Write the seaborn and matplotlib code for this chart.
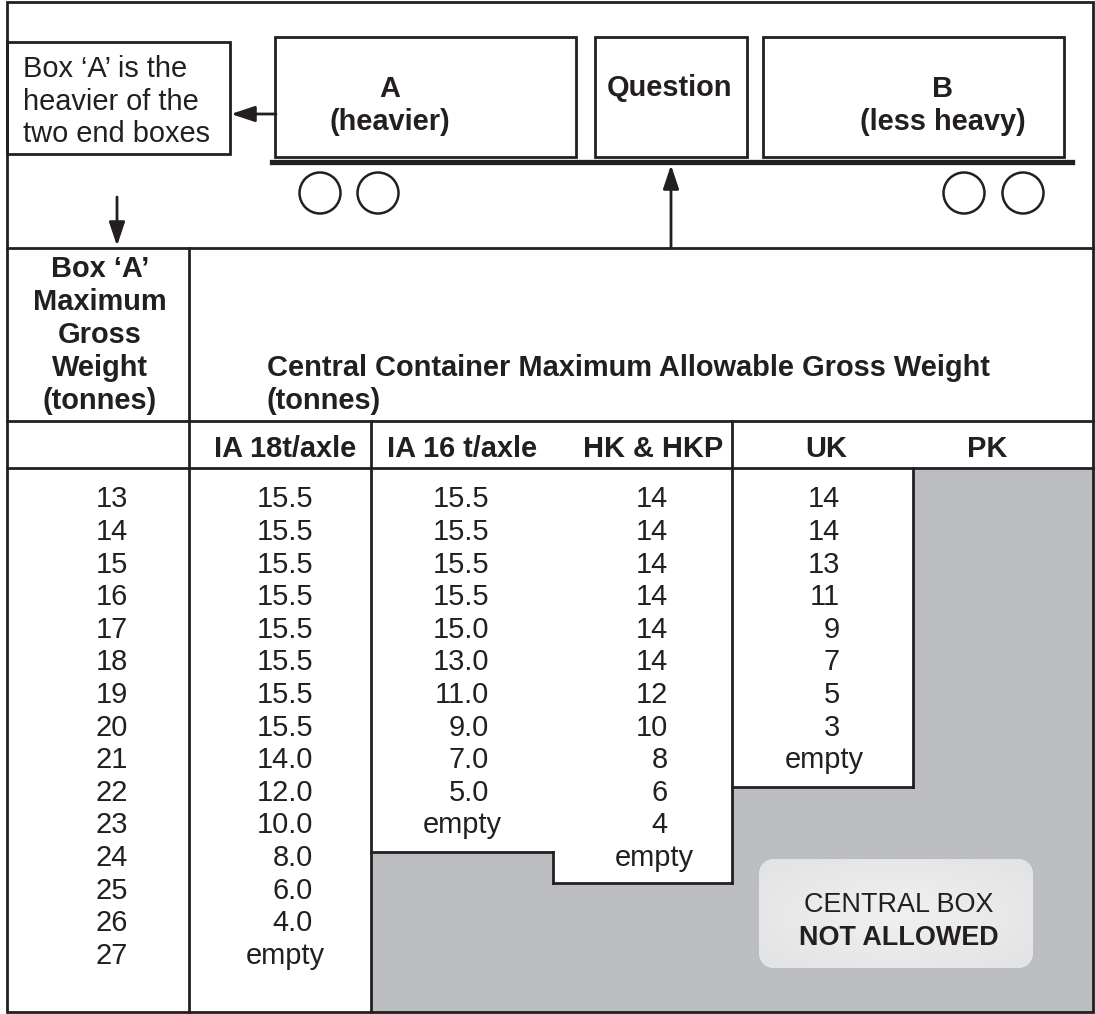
import numpy as np
import matplotlib
matplotlib.use("Agg")
import matplotlib.pyplot as plt
import seaborn as sns
from matplotlib.patches import Rectangle, Circle, Polygon, FancyBboxPatch

# table values (rows are Box 'A' weights, columns are central-box limits)
box_a_weights = [13, 14, 15, 16, 17, 18, 19, 20, 21, 22, 23, 24, 25, 26, 27]
ia18 = ["15.5", "15.5", "15.5", "15.5", "15.5", "15.5", "15.5", "15.5",
        "14.0", "12.0", "10.0", "8.0", "6.0", "4.0", "empty"]
ia16 = ["15.5", "15.5", "15.5", "15.5", "15.0", "13.0", "11.0", "9.0",
        "7.0", "5.0", "empty"]
hk_hkp = ["14", "14", "14", "14", "14", "14", "12", "10", "8", "6", "4", "empty"]
uk = ["14", "14", "13", "11", "9", "7", "5", "3", "empty"]
pk = []

col_names = ["IA 18t/axle", "IA 16 t/axle", "HK & HKP", "UK", "PK"]
header_left = ["Box \u2018A\u2019", "Maximum", "Gross", "Weight", "(tonnes)"]
callout = ["Box \u2018A\u2019 is the", "heavier of the", "two end boxes"]

INK = "#231f20"
GREY = "#bcbdc0"
W, H = 1095, 1014

sns.set_theme(style="white")
plt.rcParams["font.family"] = ["Liberation Sans", "DejaVu Sans"]

fig = plt.figure(figsize=(W / 100, H / 100), dpi=100)
ax = fig.add_axes([0, 0, 1, 1])
ax.set_xlim(0, W)
ax.set_ylim(H, 0)
ax.axis("off")

FS = 29 * 72 / 100  # 29 px text
LW = 2.0


def line(x0, y0, x1, y1, lw=LW):
    ax.plot([x0, x1], [y0, y1], color=INK, lw=lw, solid_capstyle="projecting")


def txt(x, y, s, ha="center", bold=False, size=FS):
    # y is the visual middle of capitals; shift to baseline
    ax.text(x, y + size * 100 / 72 * 0.36, s, ha=ha, va="baseline",
            fontsize=size, color=INK, fontweight="bold" if bold else "normal")


def arrow(x0, y0, x1, y1):
    ax.annotate("", xy=(x1, y1), xytext=(x0, y0),
                arrowprops=dict(arrowstyle="-|>,head_length=1.2,head_width=0.4",
                                color=INK, lw=LW, shrinkA=0, shrinkB=0))


# grey "not allowed" region
left, right, top, bottom = 7, 1093, 2, 1012
ia_split, hk_split, uk_split, pk_split = 371, 553, 732, 913
ax.add_patch(Polygon([(ia_split, bottom), (ia_split, 852), (hk_split, 852),
                      (hk_split, 883), (uk_split, 883), (uk_split, 787),
                      (pk_split, 787), (pk_split, 468), (right, 468),
                      (right, bottom)], closed=True, facecolor=GREY,
                     edgecolor="none", zorder=0))

# outer frame and table rules
ax.add_patch(Rectangle((left, top), right - left, bottom - top, fill=False,
                       edgecolor=INK, lw=LW))
for y in (248, 421, 468):
    line(left, y, right, y)
line(189, 248, 189, bottom)
line(ia_split, 421, ia_split, bottom)
line(uk_split, 421, uk_split, 883)
line(pk_split, 468, pk_split, 787)
line(uk_split, 787, pk_split, 787)
line(hk_split, 883, uk_split, 883)
line(hk_split, 852, hk_split, 883)
line(ia_split, 852, hk_split, 852)

# wagon sketch
ax.add_patch(Rectangle((7, 42), 223, 112, fill=False, edgecolor=INK, lw=LW))
for x0, x1 in ((275, 576), (595, 747), (763, 1064)):
    ax.add_patch(Rectangle((x0, 37), x1 - x0, 120, fill=False, edgecolor=INK, lw=LW))
line(272, 162, 1072, 162, lw=3.8)
for cx in (320, 378, 964, 1023):
    ax.add_patch(Circle((cx, 193), 20.5, fill=False, edgecolor=INK, lw=1.8))
arrow(276, 114, 231, 114)
arrow(117, 197, 117, 246)
arrow(671, 248, 671, 165)

for i, s in enumerate(callout):
    txt(23, 67 + 32.5 * i, s, ha="left")
txt(390, 87, "A", bold=True)
txt(390, 120, "(heavier)", bold=True)
txt(670, 86, "Question", bold=True)
txt(943, 87, "B", bold=True)
txt(943, 120, "(less heavy)", bold=True)

# header
for i, s in enumerate(header_left):
    txt(100, 267 + 33 * i, s, bold=True)
txt(267, 366, "Central Container Maximum Allowable Gross Weight", ha="left", bold=True)
txt(267, 399, "(tonnes)", ha="left", bold=True)
for x, s in zip((285, 462, 653, 826, 987), col_names):
    txt(x, 447, s, bold=True)

# data rows
row_y = {w: 497 + 32.6 * i for i, w in enumerate(box_a_weights)}
for w in box_a_weights:
    txt(112, row_y[w], str(w))

columns = [(ia18, 285, 313), (ia16, 462, 489), (hk_hkp, 654, 668),
           (uk, 824, 840), (pk, 987, 1000)]
for values, cx, rx in columns:
    for w, v in zip(box_a_weights, values):
        if v == "empty":
            txt(cx, row_y[w], v)
        else:
            txt(rx, row_y[w], v, ha="right")

# "not allowed" badge with soft gradient
badge = FancyBboxPatch((776, 876), 240, 75, boxstyle="round,pad=17,rounding_size=17",
                       facecolor="#f3f4f4", edgecolor="none", zorder=2)
ax.add_patch(badge)
gx, gy = np.meshgrid(np.linspace(-1, 1, 200), np.linspace(-1, 1, 100))
grad = np.sqrt(gx ** 2 + gy ** 2)
im = ax.imshow(grad, cmap=sns.light_palette("#e1e2e3", as_cmap=True), vmin=0, vmax=1.45,
               extent=(759, 1033, 968, 859), zorder=3, interpolation="bilinear")
im.set_clip_path(badge)
ax.text(899, 902 + 10, "CENTRAL BOX", ha="center", va="baseline", fontsize=27 * 0.72,
        color=INK, zorder=4)
ax.text(899, 935 + 10, "NOT ALLOWED", ha="center", va="baseline", fontsize=27 * 0.72,
        color=INK, fontweight="bold", zorder=4)

ax.set_xlim(0, W)
ax.set_ylim(H, 0)
fig.savefig("out.png", dpi=100)
